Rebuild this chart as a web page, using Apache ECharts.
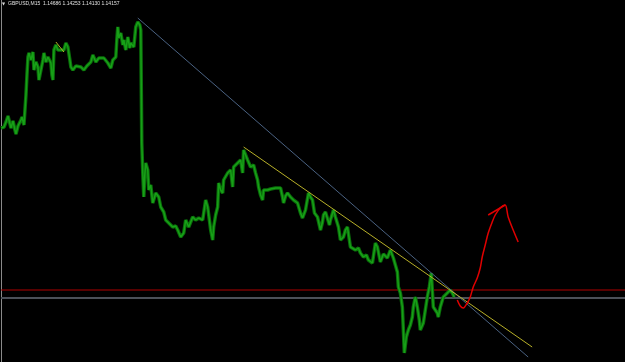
<!DOCTYPE html>
<html><head><meta charset="utf-8">
<script src="https://cdn.jsdelivr.net/npm/echarts@6/dist/echarts.min.js"></script>
<style>html,body{margin:0;padding:0;background:#000;}#c{width:625px;height:362px;}</style>
</head><body><div id="c"></div>
<script>
// Chart header
const symbolLabel = "GBPUSD,M15";
const ohlcLabel = ["1.14686", "1.14253", "1.14130", "1.14157"];

// Bar index (time) and close price of the GBPUSD M15 series
const barIndex = [0,3,5,7,9,10,12,14,15,17,18,20,21,23,25,26,27,28,30,32,33,35,37,38,40,42,43,45,47,50,51,52,53,55,57,60,63,65,67,69,70,72,75,77,80,83,86,88,90,92,95,98,100,103,107,110,112,115,116,117,118,120,122,123,125,127,129,130,133,135,137,139,140,141,142,143,144,145,147,148,150,152,155,158,160,163,165,168,170,172,175,177,180,183,185,188,190,192,195,198,202,205,207,209,210,212,213,215,217,218,220,222,223,225,227,230,232,233,235,237,240,242,243,245,247,250,253,255,257,258,260,262,263,267,270,272,275,277,280,282,283,285,287,290,293,297,300,302,305,308,310,312,314,317,320,322,323,325,327,329,330,333,335,338,340,343,345,347,350,352,355,358,360,363,366,368,372,375,377,380,383,387,390,393,397,398,400,402,403,404,406,408,410,412,413,415,417,419,420,423,425,427,429,431,432,433,435,437,438,440,443,445,447,450,452,454];
const closePrice = [1.1582,1.1583,1.1588,1.1594,1.1586,1.1582,1.1589,1.1580,1.1576,1.1584,1.1586,1.1590,1.1593,1.1585,1.1615,1.1635,1.1653,1.1657,1.1650,1.1658,1.1640,1.1648,1.1643,1.1630,1.1640,1.1650,1.1657,1.1648,1.1653,1.1647,1.1635,1.1630,1.1660,1.1665,1.1660,1.1660,1.1660,1.1667,1.1663,1.1650,1.1643,1.1640,1.1644,1.1642,1.1643,1.1640,1.1644,1.1643,1.1648,1.1655,1.1648,1.1652,1.1650,1.1652,1.1647,1.1642,1.1650,1.1653,1.1670,1.1683,1.1672,1.1677,1.1665,1.1670,1.1660,1.1673,1.1662,1.1667,1.1663,1.1683,1.1688,1.1685,1.1680,1.1567,1.1537,1.1513,1.1535,1.1547,1.1540,1.1520,1.1525,1.1507,1.1517,1.1513,1.1503,1.1498,1.1490,1.1487,1.1488,1.1483,1.1484,1.1480,1.1473,1.1477,1.1490,1.1483,1.1488,1.1493,1.1490,1.1492,1.1490,1.1510,1.1503,1.1488,1.1480,1.1470,1.1483,1.1495,1.1503,1.1527,1.1520,1.1517,1.1530,1.1532,1.1537,1.1540,1.1523,1.1543,1.1544,1.1547,1.1550,1.1537,1.1560,1.1562,1.1550,1.1543,1.1545,1.1537,1.1530,1.1523,1.1515,1.1510,1.1520,1.1520,1.1521,1.1523,1.1522,1.1524,1.1522,1.1513,1.1507,1.1514,1.1517,1.1513,1.1510,1.1507,1.1497,1.1492,1.1500,1.1517,1.1513,1.1510,1.1497,1.1493,1.1480,1.1488,1.1495,1.1498,1.1497,1.1485,1.1490,1.1500,1.1493,1.1483,1.1470,1.1473,1.1480,1.1483,1.1463,1.1465,1.1460,1.1462,1.1457,1.1453,1.1455,1.1450,1.1447,1.1467,1.1463,1.1448,1.1456,1.1452,1.1460,1.1452,1.1438,1.1423,1.1417,1.1403,1.1380,1.1357,1.1373,1.1380,1.1385,1.1393,1.1403,1.1413,1.1403,1.1390,1.1380,1.1387,1.1400,1.1413,1.1423,1.1437,1.1420,1.1403,1.1405,1.1397,1.1393,1.1403,1.1413,1.1415,1.1417,1.1420,1.1417,1.1413];

// Trend lines (two anchor points each)
const blueTrendBars = [137, 528];
const blueTrendPrices = [1.1692, 1.1353];
const yellowTrendBars = [243, 532];
const yellowTrendPrices = [1.1563, 1.1363];
const smallYellowBars = [55, 63];
const smallYellowPrices = [1.1668, 1.1658];

// Horizontal levels
const redLevel = 1.1420;
const grayLevel = 1.1412;

// Hand-drawn projection arrow
const arrowBars = [457,460,463,467,470,473,477,480,482,485,488,492,495,500,505,508,513,518];
const arrowPrices = [1.1410,1.1404,1.1402,1.1407,1.1413,1.1423,1.1432,1.1442,1.1453,1.1465,1.1477,1.1488,1.1495,1.1502,1.1505,1.1493,1.1480,1.1468];
const arrowHeadBars = [488, 505];
const arrowHeadPrices = [1.1495, 1.1505];

const zip = (a, b) => a.map((v, i) => [v, b[i]]);
const priceData = zip(barIndex, closePrice);

const chart = echarts.init(document.getElementById('c'), null, {renderer: 'canvas'});
chart.setOption({
  backgroundColor: '#000000',
  animation: false,
  grid: {left: 1, right: 0, top: 0, bottom: 0},
  graphic: [
    {type: 'text', left: 2, top: 2, style: {text: '▼', fill: '#d8d8d8', fontSize: 4, fontFamily: 'DejaVu Sans'}},
    {type: 'text', left: 8, top: 1.5, style: {text: symbolLabel + '  ' + ohlcLabel.join(' '), fill: '#e0e0e0', fontSize: 5, fontFamily: 'Liberation Sans'}}
  ],
  xAxis: {type: 'value', min: 0, max: 625, show: false},
  yAxis: {
    type: 'value', min: 1.1348, max: 1.1710,
    axisLine: {show: true, lineStyle: {color: '#8a8a8a', width: 1}},
    axisTick: {show: false}, axisLabel: {show: false}, splitLine: {show: false}
  },
  series: [
    {type: 'line', data: [[0, redLevel], [625, redLevel]], symbol: 'none', lineStyle: {color: '#b00000', width: 1}, silent: true},
    {type: 'line', data: [[0, grayLevel], [625, grayLevel]], symbol: 'none', lineStyle: {color: '#4c5058', width: 2}, silent: true},
    {type: 'line', data: priceData, symbol: 'none', lineStyle: {color: '#0a6e0a', width: 3.5}, silent: true},
    {type: 'line', data: priceData, symbol: 'none', lineStyle: {color: '#18a018', width: 1.5}, silent: true},
    {type: 'line', data: zip(blueTrendBars, blueTrendPrices), symbol: 'none', lineStyle: {color: '#4a6282', width: 1}, silent: true},
    {type: 'line', data: zip(yellowTrendBars, yellowTrendPrices), symbol: 'none', lineStyle: {color: '#b8b028', width: 1}, silent: true},
    {type: 'line', data: zip(smallYellowBars, smallYellowPrices), symbol: 'none', lineStyle: {color: '#b8b028', width: 1}, silent: true},
    {type: 'line', data: zip(arrowBars, arrowPrices), symbol: 'none', smooth: 0.3, lineStyle: {color: '#e00000', width: 1.5}, silent: true},
    {type: 'line', data: zip(arrowHeadBars, arrowHeadPrices), symbol: 'none', lineStyle: {color: '#e00000', width: 1.5}, silent: true}
  ]
});
</script>
</body></html>
